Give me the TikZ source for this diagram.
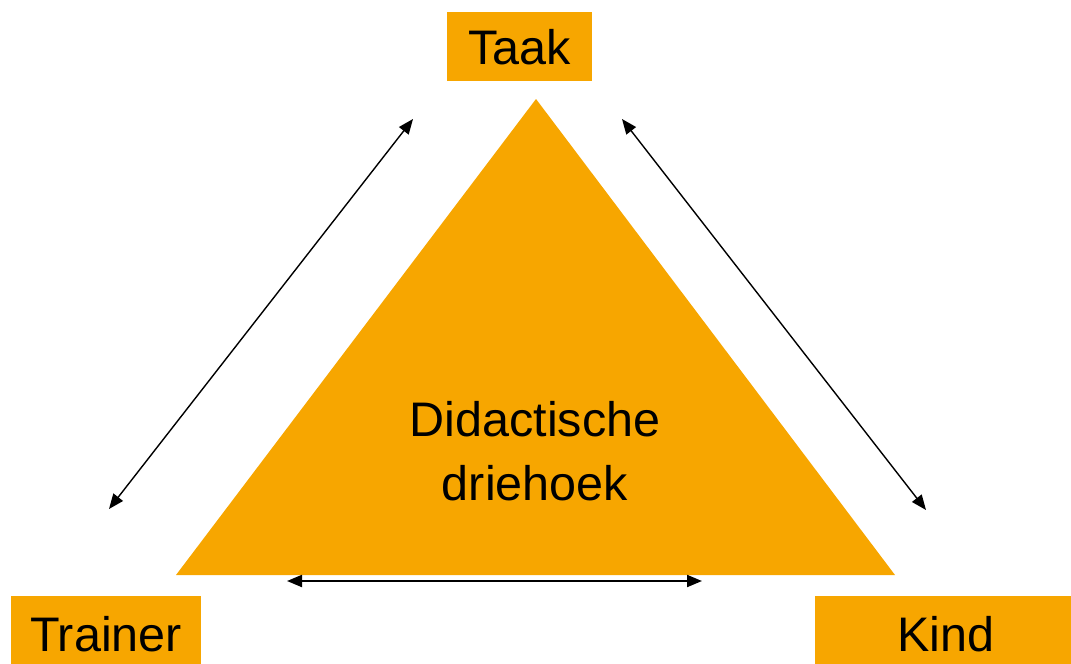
\documentclass[tikz,border=0pt]{standalone}
\usepackage{fontspec}
\setmainfont{Liberation Sans}
\usepackage{xcolor}
\usetikzlibrary{arrows.meta,positioning}
\definecolor{driegeel}{HTML}{F7A600}

\begin{document}
\begin{tikzpicture}[
  x=1pt, y=-1pt,
  font=\fontsize{48.5}{64}\selectfont,
  hoek/.style={fill=driegeel, inner sep=0pt, text height=35pt, text depth=0pt, minimum height=69pt},
  ar/.style={{Triangle[length=15pt,width=12pt]}-{Triangle[length=15pt,width=12pt]}, line width=1.4pt, black}
]
\useasboundingbox (0,0) rectangle (1071,664);
\clip (0,0) rectangle (1071,664);

\fill[driegeel] (536,99) -- (895,575) -- (176,575) -- cycle;
\node[align=center] (midden) at (535,451) {Didactische\\driehoek};

\node[hoek, minimum width=145pt] (taak) at (519.5,46.5) {Taak};
\node[hoek, minimum width=190pt, minimum height=76pt] (trainer) at (106,634) {Trainer};
\node[hoek, minimum width=262pt, minimum height=76pt] (kind) at (946,634) {Kind};

\coordinate (lo) at (109,509);
\coordinate (lb) at (413,119);
\coordinate (rb) at (622,119);
\coordinate (ro) at (926,510);
\coordinate (ol) at (287,581);
\coordinate (or) at (702,581);

\draw[ar] (lo) -- (lb);
\draw[ar] (rb) -- (ro);
\draw[ar, line width=2pt] (ol) -- (or);

\end{tikzpicture}
\end{document}
